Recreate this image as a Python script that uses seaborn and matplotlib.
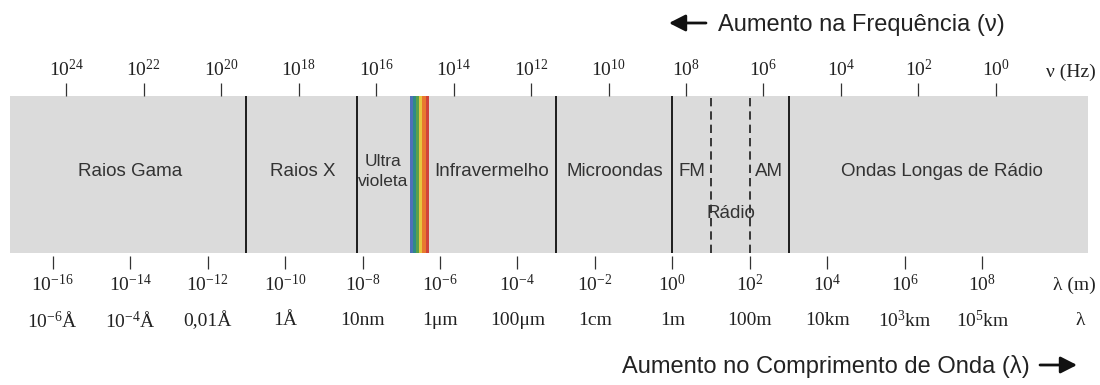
import matplotlib
matplotlib.use("Agg")
import numpy as np
import matplotlib.pyplot as plt
import seaborn as sns
from matplotlib.transforms import blended_transform_factory

# ---- data (positions along the band are log10 of wavelength in metres) ----
wl_exponents = [-16, -14, -12, -10, -8, -6, -4, -2, 0, 2, 4, 6, 8]
wl_names = ["$10^{-6}$Å", "$10^{-4}$Å", "0,01Å", "1Å", "10nm", "1μm", "100μm",
            "1cm", "1m", "100m", "10km", "$10^{3}$km", "$10^{5}$km"]
freq_exponents = [24, 22, 20, 18, 16, 14, 12, 10, 8, 6, 4, 2, 0]
FREQ_SHIFT = 8.35            # log10 offset between the ν scale and the λ scale

band_limits = (-17.1, 10.72)
solid_edges = [-11.0, -8.14, -3.0, 0.0, 3.0]
radio_edges = [1.0, 2.0]
visible_range = (-6.78, -6.29)
visible_colors = ["#4f6fb8", "#2f8a86", "#5aa04a", "#e6c63e", "#e8792f", "#d0433a"]

region_names = ["Raios Gama", "Raios X", "Ultra\nvioleta", "Infravermelho",
                "Microondas", "FM", "AM", "Ondas Longas de Rádio"]
region_centers = [-14.0, -9.55, -7.46, -4.68, -1.5, 0.5, 2.5, 6.95]
region_sizes = [13.5, 13.5, 12.5, 13.5, 13.5, 13.5, 13.5, 13.5]
radio_label = "Rádio"
radio_center = 1.5

# ---- style ----
sns.set_theme(style="white")
plt.rcParams["font.family"] = ["Liberation Sans", "DejaVu Sans"]
plt.rcParams["mathtext.fontset"] = "custom"
plt.rcParams["mathtext.rm"] = "Liberation Serif"
plt.rcParams["mathtext.it"] = "Liberation Serif:italic"
plt.rcParams["mathtext.bf"] = "Liberation Serif:bold"

W, H = 1100, 385
fig = plt.figure(figsize=(W / 100, H / 100), dpi=100)
band_top, band_bot, band_left, band_right = 96, 253.3, 10, 1087.7
ax = fig.add_axes([band_left / W, 1 - band_bot / H,
                   (band_right - band_left) / W, (band_bot - band_top) / H])
ax.set_facecolor("#dbdbdb")

# visible light strip
stripe_edges = np.linspace(visible_range[0], visible_range[1], len(visible_colors) + 1)
for a, b, c in zip(stripe_edges[:-1], stripe_edges[1:], visible_colors):
    ax.axvspan(a, b, color=c, lw=0, zorder=1)

# region boundaries
sns.rugplot(x=solid_edges, height=1, ax=ax, color="#1c1c1c", linewidth=1.4,
            expand_margins=False, zorder=3)
sns.rugplot(x=radio_edges, height=1, ax=ax, color="#1c1c1c", linewidth=1.2,
            linestyle=(0, (5, 3)), expand_margins=False, zorder=3)

ax.set_xlim(*band_limits)
ax.set_ylim(0, 1)
ax.set_yticks([])
for s in ax.spines.values():
    s.set_visible(False)
ax.spines["bottom"].set_position(("outward", 2))

# region names
text_kw = dict(ha="center", va="center", color="#333333")
for name, xc, fs in zip(region_names, region_centers, region_sizes):
    ax.text(xc, 0.52, name, linespacing=1.4, zorder=4, fontsize=fs, **text_kw)
ax.text(radio_center, 0.25, radio_label, zorder=4, fontsize=13.5, **text_kw)

# wavelength scale (bottom)
ax.set_xticks(wl_exponents, labels=[f"$10^{{{e}}}$" for e in wl_exponents])
ax.tick_params(axis="x", bottom=True, length=9, width=0.9, color="#333333",
               pad=4, labelsize=14, labelcolor="#222222")
trans = blended_transform_factory(ax.transData, ax.transAxes)
for e, name in zip(wl_exponents, wl_names):
    ax.text(e, -0.43, name, transform=trans, ha="center", va="center",
            fontsize=14, family="Liberation Serif", color="#222222")

# frequency scale (top)
sec = ax.secondary_xaxis("top", functions=(lambda x: FREQ_SHIFT - x,
                                            lambda v: FREQ_SHIFT - v))
sec.set_xticks(freq_exponents, labels=[f"$10^{{{e}}}$" for e in freq_exponents])
sec.tick_params(axis="x", length=9.5, width=0.9, color="#333333", pad=2,
                labelsize=14, labelcolor="#222222")
for s in sec.spines.values():
    s.set_visible(False)

# unit labels on the right
serif = dict(family="Liberation Serif", fontsize=14, color="#222222")
fig.text(1096 / W, 1 - 77 / H, "ν (Hz)", va="baseline", ha="right", **serif)
fig.text(1096 / W, 1 - 290 / H, "λ (m)", va="baseline", ha="right", **serif)
fig.text(1080 / W, 1 - 325 / H, "λ", va="baseline", ha="center", **serif)

# direction captions with arrows
title_kw = dict(fontsize=17, color="#222222", va="baseline")
fig.text(718 / W, 1 - 31 / H, "Aumento na Frequência (ν)", ha="left", **title_kw)
fig.text(1030 / W, 1 - 373 / H, "Aumento no Comprimento de Onda (λ)", ha="right", **title_kw)
arrow = dict(arrowstyle="-|>,head_length=0.55,head_width=0.28", color="#111111",
             lw=2.0, shrinkA=0, shrinkB=0, mutation_scale=18)
fig.add_artist(matplotlib.patches.FancyArrowPatch(
    (706 / W, 1 - 23 / H), (669 / W, 1 - 23 / H), transform=fig.transFigure, **arrow))
fig.add_artist(matplotlib.patches.FancyArrowPatch(
    (1040 / W, 1 - 365 / H), (1077 / W, 1 - 365 / H), transform=fig.transFigure, **arrow))

fig.savefig("out.png", dpi=100, facecolor="white")
